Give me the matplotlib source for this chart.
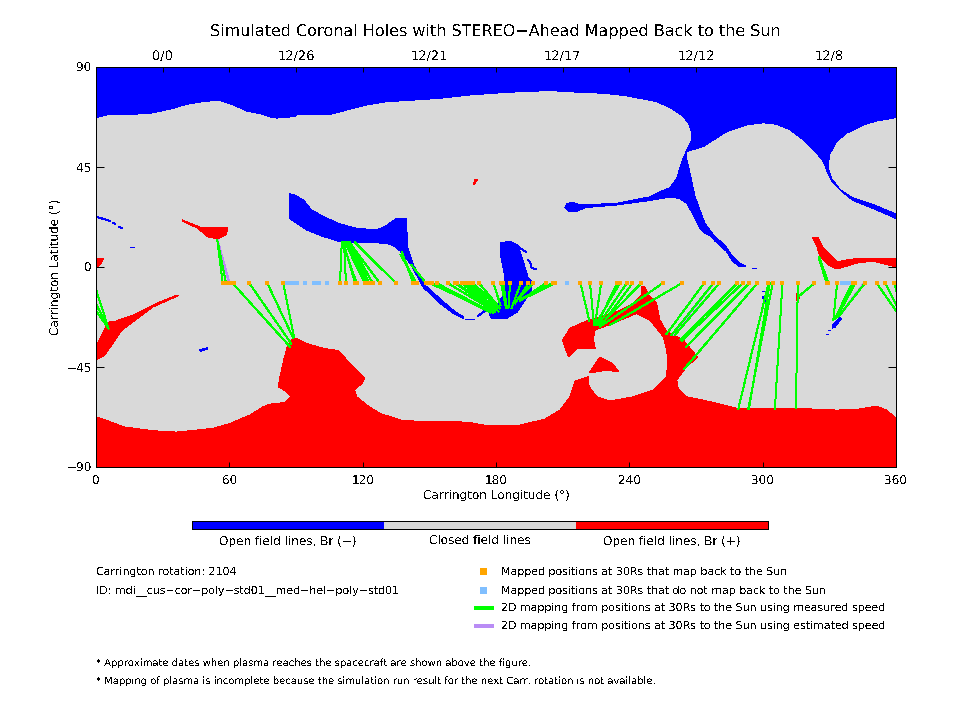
import numpy as np
import matplotlib
matplotlib.use("Agg")
import matplotlib.pyplot as plt
from matplotlib.lines import Line2D
from matplotlib.patches import Rectangle

# the original is an IDL bitmap, so no smoothing anywhere
plt.rcParams['font.family'] = 'DejaVu Sans'
plt.rcParams['text.antialiased'] = False
plt.rcParams['text.hinting'] = 'none'
plt.rcParams['text.hinting_factor'] = 1
plt.rcParams['lines.antialiased'] = False
plt.rcParams['patch.antialiased'] = False

BLUE = '#0000ff'
RED = '#ff0000'
GRAY = '#d9d9d9'
GREEN = '#00ff00'
PURPLE = '#b98cf5'
ORANGE = '#ffa500'
LIGHT_BLUE = '#80bfff'

# Coronal hole outlines (lon, lat in degrees)
north_hole = [
    (0, 90), (0, 67.2), (4.8, 68.4), (23.6, 69), (29.6, 70.2), (34.8, 71.4), (40.8, 73.2), (46.8, 74.2),
    (51.3, 74.7), (56.6, 74.7), (61.8, 72.9), (67.8, 70.2), (73.8, 69), (78.3, 67.5), (81.3, 67),
    (89.6, 67.7), (90.3, 68.4), (105.3, 68.7), (109.8, 69.8), (115.8, 71.4), (121.8, 72.9), (130.8, 74.4),
    (139.8, 74.9), (154.8, 75.9), (168.3, 77.4), (184.8, 78.6), (204.3, 79.4), (217.8, 78.6), (228.3, 78.2),
    (238.8, 77), (252.3, 74.4), (258.3, 71.7), (264.3, 67.7), (266.6, 64.6), (268, 60.9), (268, 57.2),
    (265.8, 52.6), (263.6, 47.4), (261.3, 39.9), (258.3, 35.7), (253.8, 33.9), (249.3, 31.6), (234.3, 28.7),
    (217.8, 27.9), (214.8, 29.1), (212.1, 28.7), (211, 26.7), (213, 24.9), (216.3, 24.9), (220, 26.7),
    (234.3, 27.9), (247.8, 29.7), (258.3, 31.4), (262.5, 30.9), (265.8, 28.6), (268.8, 23.4), (271.8, 17.4),
    (274, 15.1), (277, 13.7), (278.5, 11.7), (283.8, 6.9), (286, 3.2), (289, 0.4), (292.5, 0.4), (289.8, 1.7),
    (286, 5.4), (283, 9.9), (278.5, 13.7), (274, 19.7), (271.8, 25.7), (269.6, 31.6), (268, 39.1),
    (265.8, 48.9), (265.8, 51.9), (273.3, 54.2), (283.8, 60.9), (292.8, 63.9), (300.3, 64.9), (306.3, 64.2),
    (312.3, 61.7), (318.3, 57.2), (324.3, 51.2), (327.3, 47.4), (329.6, 41.4), (331.8, 37.6), (336.3, 33.4),
    (340.8, 29.8), (350, 26.2), (360, 21.8), (360, 23.9), (350, 28), (340, 31.4), (334.8, 34.9), (331, 39.9),
    (329.6, 44.4), (330, 50.4), (333.3, 56.4), (337.8, 60.2), (345.3, 63.9), (351.3, 65.7), (360, 67.2),
    (360, 90),
]
south_hole = [
    (0, -90), (0, -67.4), (6.3, -69.6), (12.3, -71.9), (25.8, -73.7), (36.3, -74.3), (52.8, -72.6),
    (60.3, -70.4), (69.3, -66.6), (75.3, -62.9), (78.3, -61.7), (85, -61), (87.8, -58.4), (85.8, -56.1),
    (82, -53.9), (82.8, -49.4), (84.3, -42.6), (85.8, -36.6), (88.8, -31.6), (94.8, -34.4), (102.3, -36.6),
    (109, -37.6), (114.3, -43.4), (121, -50.1), (119.6, -52.4), (116.3, -55.4), (117.3, -58.4), (121.8, -62.1),
    (127.8, -65.9), (138.3, -69.2), (166.8, -69.8), (175.8, -71.3), (190.8, -71.1), (202, -68.5),
    (208.8, -64.4), (213.3, -58.4), (214.8, -53.9), (215.6, -51.3), (221.6, -49.4), (221.9, -53.9),
    (225.3, -58.4), (231.3, -60.3), (241.8, -58.4), (250.8, -55.4), (256.8, -49.4), (257.2, -41.9),
    (256.8, -37.4), (255.3, -31.4), (249.3, -23.9), (243.3, -20.9), (234.3, -24.6), (224.6, -28.4),
    (223.8, -32.1), (224.6, -36.6), (216.3, -36.6), (212.6, -40.4), (211.5, -37.4), (209.9, -32.9),
    (213.3, -27.6), (221.6, -23.9), (226.8, -22.4), (234.3, -20.1), (241.8, -16.4), (245.5, -12.6),
    (245.5, -8.9), (247, -8.9), (248.6, -12.6), (252.3, -16.4), (253.8, -23.9), (256.8, -29.1), (264.3, -32.9),
    (270.6, -40.4), (265, -45.9), (261.3, -50.9), (262, -54.6), (265.8, -58.4), (276.3, -60.6), (288.3, -63.6),
    (315.3, -63.6), (333.3, -64.4), (343, -64), (351.3, -62.6), (355.8, -64.4), (360, -68.1), (360, -90),
]
red_patches = [
    [(0, 4), (3.6, 4), (1.8, 0.9), (0, -0.5)],
    [(0, -41.9), (4, -39.6), (11.7, -28.4), (16.6, -24.8), (25.6, -18), (37, -13), (36.5, -12.6),
     (27.5, -16.2), (16.6, -21.6), (7.6, -24.8), (6.3, -24.3), (4, -27.5), (0.8, -34.2), (0, -35)],
    [(38.7, 21.2), (46.8, 18), (59.4, 17.6), (58.5, 14.4), (54.9, 12.6), (50.4, 13.5), (45.5, 17.6),
     (38.7, 20.7)],
    [(169.7, 36.9), (170.5, 39.2), (171.9, 39.2)],
    [(322.2, 13.5), (324.9, 13.5), (327.2, 8.6), (333.5, 2.3), (337.8, 3.2), (343.8, 4), (349.7, 4),
     (360, 3.6), (360, 0), (349.7, 2.7), (342.5, 1.8), (333.5, -0.9), (329.4, 0.9), (325.8, 4.5), (324.5, 9)],
    [(315, -12), (316, -11.5), (316.5, -14), (315, -15)],
    [(221.9, -47.7), (226.8, -40.5), (232.6, -43.6), (235.3, -47.2), (229.9, -46.4)],
]
blue_patches = [
    [(86.9, 32.9), (88.8, 32.7), (93.3, 30.2), (97, 25.7), (102.3, 22.7), (109.8, 19.4), (117.3, 17.4),
     (126.3, 16.7), (130, 18.2), (135.3, 21.9), (139.8, 21.9), (140.1, 9.2), (142.8, 0.9), (148, -8.1),
     (156.3, -15.6), (161.6, -20.1), (165.3, -22.4), (165.3, -23.1), (160.8, -20.9), (154.8, -16.4),
     (147.3, -9.2), (141.3, 1.7), (136.8, 7.2), (134.6, 9.2), (130.8, 10.7), (117.3, 11.1), (109.8, 11.4),
     (102.3, 13.7), (94.8, 16.7), (87.3, 21.6)],
    [(181.8, 6.3), (181.8, 10.8), (186.3, 11.7), (189.9, 9.9), (191.7, 4.5), (194.4, -4.5),
     (196.2, -6.8), (196.2, -10.4), (189.5, -20.3), (185, -23), (178.2, -23), (176.9, -21.6),
     (180.9, -16.2), (184, -11.7), (183.6, -2.7)],
    [(331.2, -26.1), (334.8, -22.5), (335.3, -23.4), (332.6, -27), (331.2, -27.5)],
    [(46.4, -37.4), (50, -36.3), (50, -37), (47, -38)],
]
blue_specks = [
    [(0.5, 22.5), (6.3, 20.7)],
    [(7.6, 19.8), (8.6, 19.5)],
    [(10.4, 18), (11.6, 17.6)],
    [(15.3, 9), (17.1, 9)],
    [(166, -23.3), (170, -23.3)],
    [(172, -22), (176, -19)],
    [(190, 9), (193.5, 6.8)],
    [(194.4, 3.2), (195.5, 1.8), (196, -0.5), (198, -0.9)],
    [(295, -0.5), (297, -0.5)],
    [(299.7, -11), (301.5, -11)],
    [(300, -13.5), (301, -15.7)],
    [(328.5, -30.2), (329.5, -30.2)],
    [(329.6, -28.4), (330.5, -28.4)],
]

# Positions at 30Rs, all on the same latitude
map_lat = -7.3
mapped_lon = [
    57, 58.5, 60, 61.5, 62.1, 69, 77.1, 84.3, 109.8, 112.5, 116.6, 117.3, 121, 121.8, 123, 124.5,
    127.8, 135, 142.8, 143.6, 144.3, 148.5, 150.3, 151, 153.3, 158.3, 161.6, 162.3, 164.6, 166,
    167.6, 169, 169.8, 172.4, 178.8, 182.3, 183.3, 186.3, 191.1, 194.6, 196.8, 202.4, 205.5, 206.6,
    218, 222.3, 227.3, 234.6, 235.8, 238.8, 241.4, 245.4, 255, 263.6, 273.6, 277.8, 280.5, 288.6,
    291, 293.9, 297.6, 302.6, 304.5, 308.9, 315.8, 323.3, 328.8, 329.6, 333.5, 340.5, 341.7, 346,
    351.3, 355.2, 359.1,
]
unmapped_lon = [85.8, 87, 88.8, 89.5, 90.6, 94, 98.1, 99.3, 100.2, 104.1, 211.8, 335.6, 337, 338, 338.9]

# Mapping lines: start longitude at 30Rs, end point on the Sun
green_start = [
    57, 58.5, 61.5, 69, 77.1, 84.3, 109.8, 112.5, 116.6, 117.3, 121, 121.8, 123, 124.5, 127.8, 135,
    142.8, 143.6, 144.3, 148.5, 150.3, 151, 153.3, 158.3, 161.6, 162.3, 164.6, 166, 167.6, 169,
    169.8, 172.4, 178.8, 182.3, 183.3, 186.3, 191.1, 194.6, 196.8, 202.4, 205.5, 206.6, 218, 222.3,
    227.3, 234.6, 235.8, 238.8, 241.4, 245.4, 255, 263.6, 273.6, 277.8, 280.5, 288.6, 291, 293.9,
    297.6, 302.6, 303.2, 304.5, 308.9, 315.8, 323.3, 328.8, 329.6, 333.5, 340.2, 340.5, 341.7, 346,
    351.3, 355.2, 359.1,
]
green_end_lon = [
    54.6, 54.8, 87.3, 87.8, 88.8, 89.1, 110.6, 111.6, 111.3, 110.9, 112, 112.8, 113.6, 114.3, 113.9,
    116.5, 137.6, 137.6, 137.1, 142, 178, 177.3, 178.8, 179.6, 178, 179.6, 179.1, 180.3, 181.1,
    180.6, 181.5, 181.8, 182, 184.5, 184.8, 185.6, 187, 188.6, 190, 190.8, 191.5, 190.8, 222, 224.1,
    224.6, 225.3, 224.6, 226, 226.8, 226.8, 226.8, 231.3, 256.8, 259, 260.5, 263.1, 263.5, 265.5,
    264.6, 289, 293.8, 293.5, 305.5, 315, 316, 325.2, 325.5, 331.8, 332.5, 333, 333.3, 334.1,
    365.6, 365.6, 365.6,
]
green_end_lat = [
    12.2, 11.4, -35.9, -34.4, -32.1, -31.4, 11.1, 11.1, 11.1, 11.1, 11.1, 11.1, 11.1, 11.1, 11.1,
    11.1, 6.9, 6.2, 5.4, 0.9, -20.1, -20.4, -20.6, -20.1, -18.6, -19.4, -18.6, -18.6, -20.1, -17.9,
    -18.6, -18.6, -17.1, -18.6, -17.9, -18.6, -18.6, -16.4, -14.1, -15.2, -14.1, -15, -24.2, -26.1,
    -25.7, -26.1, -26.1, -26.1, -26.9, -26.1, -26.9, -26.1, -30.1, -30.6, -30.6, -32.6, -33.2, -35.9,
    -46, -64, -64, -64, -64, -63.6, -13.4, 4.3, 4.3, -23.9, -23.4, -23.1, -22.7, -22.4,
    -27.6, -27.6, -27.6,
]
purple_start = [60, 277.8, 345.6]
purple_end_lon = [54.6, 259.5, 334.8]
purple_end_lat = [12.2, -30.6, -21.6]

lat_ticks = [-90, -45, 0, 45, 90]
lon_ticks = [0, 60, 120, 180, 240, 300, 360]
date_ticks = [30, 90, 150, 210, 270, 330]
date_labels = ['0/0', '12/26', '12/21', '12/17', '12/12', '12/8']
bar_colors = [BLUE, GRAY, RED]
bar_labels = ['Open field lines, Br (\u2212)', 'Closed field lines', 'Open field lines, Br (+)']

W, H = 960, 720
THIN = 0.72  # one pixel at 100 dpi
fig = plt.figure(figsize=(9.6, 7.2), dpi=100)
ax = fig.add_axes([96 / W, 1 - 467 / H, 800 / W, 400 / H])
ax.set_facecolor(GRAY)

# Holes
ax.fill(*zip(*north_hole), color=BLUE, lw=0)
ax.fill(*zip(*south_hole), color=RED, lw=0)
for poly in red_patches:
    ax.fill(*zip(*poly), color=RED, lw=0)
for poly in blue_patches:
    ax.fill(*zip(*poly), color=BLUE, lw=0)
for seg in blue_specks:
    ax.plot(*zip(*seg), color=BLUE, lw=THIN)

# Mapping lines, those past 360 wrap round to the left side
for shift in (0, -360):
    for s, e, lat in zip(purple_start, purple_end_lon, purple_end_lat):
        ax.plot([s + shift, e + shift], [map_lat, lat], color=PURPLE, lw=1)
    for s, e, lat in zip(green_start, green_end_lon, green_end_lat):
        ax.plot([s + shift, e + shift], [map_lat, lat], color=GREEN, lw=THIN)

ax.plot(unmapped_lon, [map_lat] * len(unmapped_lon), 's', color=LIGHT_BLUE, ms=3, mew=0)
ax.plot(mapped_lon, [map_lat] * len(mapped_lon), 's', color=ORANGE, ms=3, mew=0)

ax.set_xlim(0, 360)
ax.set_ylim(-90, 90)
ax.set_xticks(lon_ticks)
ax.set_yticks(lat_ticks)
ax.tick_params(axis='x', direction='in', length=3.6, width=THIN, labelsize=8.8, pad=6)
ax.tick_params(axis='y', direction='in', length=5.8, width=THIN, labelsize=8.8, right=True, pad=3)
for sp in ax.spines.values():
    sp.set_linewidth(THIN)
ax.set_xlabel('Carrington Longitude (\u00b0)', fontsize=8.6)
ax.set_ylabel('Carrington Latitude (\u00b0)', fontsize=8.6)
ax.xaxis.set_label_coords(0.5, -22 / 400)
ax.yaxis.set_label_coords(-35 / 800, 0.5)

# Dates along the top
top = ax.twiny()
top.set_xlim(0, 360)
top.set_xticks(np.arange(0, 361, 30))
top.set_xticklabels([date_labels[date_ticks.index(t)] if t in date_ticks else '' for t in range(0, 361, 30)])
top.tick_params(direction='in', length=3.6, width=THIN, labelsize=9.4, pad=3)
for sp in top.spines.values():
    sp.set_linewidth(THIN)

fig.text(495 / W, 1 - 31 / H, 'Simulated Coronal Holes with STEREO\u2212Ahead Mapped Back to the Sun',
         ha='center', va='center', fontsize=11.4)

# Colour key
bar = fig.add_axes([192 / W, 1 - 529 / H, 576 / W, 8 / H])
bar.barh([0, 0, 0], [1, 1, 1], left=[0, 1, 2], height=1, color=bar_colors)
bar.set_xlim(0, 3)
bar.set_ylim(-0.5, 0.5)
bar.set_xticks([])
bar.set_yticks([])
for sp in bar.spines.values():
    sp.set_linewidth(THIN)
for i, label in enumerate(bar_labels):
    fig.text((288 + 192 * i) / W, 1 - 541 / H, label, ha='center', va='center', fontsize=8.9)


def note(x, y, s, size):
    fig.text(x / W, 1 - y / H, s, ha='left', va='center', fontsize=size)


note(96, 572, 'Carrington rotation: 2104', 7.9)
note(96, 591, 'ID: mdi__cus\u2212cor\u2212poly\u2212std01__med\u2212hel\u2212poly\u2212std01', 7.85)
note(501, 572, 'Mapped positions at 30Rs that map back to the Sun', 7.75)
note(501, 591, 'Mapped positions at 30Rs that do not map back to the Sun', 7.75)
note(501, 608, '2D mapping from positions at 30Rs to the Sun using measured speed', 7.75)
note(501, 626, '2D mapping from positions at 30Rs to the Sun using estimated speed', 7.75)
note(96, 663, '* Approximate dates when plasma reaches the spacecraft are shown above the figure.', 7.4)
note(96, 681, '* Mapping of plasma is incomplete because the simulation run result for the next Carr. rotation is not available.', 7.55)

# Legend marks
for y, c in ((572, ORANGE), (591, LIGHT_BLUE)):
    fig.add_artist(Rectangle((480 / W, 1 - (y + 3) / H), 7 / W, 7 / H, color=c, lw=0, transform=fig.transFigure))
for y, c in ((608, GREEN), (626, PURPLE)):
    fig.add_artist(Line2D([476 / W, 492 / W], [1 - y / H, 1 - y / H], color=c, lw=1.5, transform=fig.transFigure))

fig.savefig('out.png', dpi=100)
